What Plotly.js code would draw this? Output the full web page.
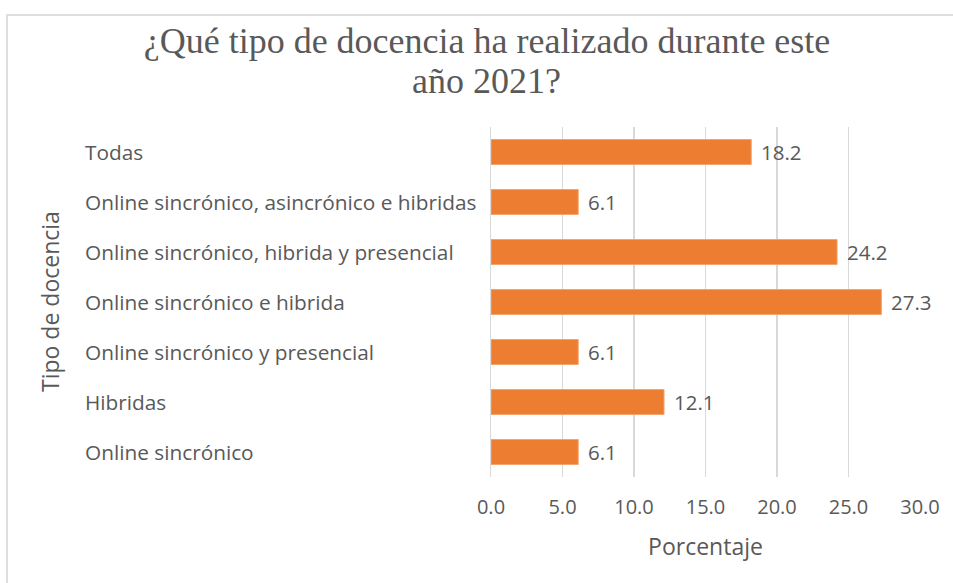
<!DOCTYPE html>
<html>
<head>
<meta charset="utf-8">
<script src="https://cdn.plot.ly/plotly-3.0.1.min.js"></script>
<style>
html,body{margin:0;padding:0;background:#fff;}
#frame{position:absolute;left:6px;top:14px;right:0;bottom:0;border-left:2px solid #dedede;border-top:2px solid #dedede;pointer-events:none;z-index:5;}
#chart{position:absolute;left:0;top:0;width:953px;height:583px;}
</style>
</head>
<body>
<div id="chart"></div>
<div id="frame"></div>
<script>
const categories = [
  "Todas",
  "Online sincrónico, asincrónico e hibridas",
  "Online sincrónico, hibrida y presencial",
  "Online sincrónico e hibrida",
  "Online sincrónico y presencial",
  "Hibridas",
  "Online sincrónico"
];
const values = [18.2, 6.1, 24.2, 27.3, 6.1, 12.1, 6.1];
const tickVals = [0, 5, 10, 15, 20, 25, 30];
const tickText = ["0.0", "5.0", "10.0", "15.0", "20.0", "25.0", "30.0"];
const titleLine1 = "¿Qué tipo de docencia ha realizado durante este";
const titleLine2 = "año 2021?";

const gray = "#595959";
const sans = "Open Sans, sans-serif";
const serif = "Liberation Serif, Times New Roman, serif";

const trace = {
  type: "bar",
  orientation: "h",
  x: values,
  y: categories,
  width: 0.5,
  marker: {color: "#ED7D31", line: {color: "#F3A56E", width: 1}},
  hoverinfo: "none"
};

const annotations = [];
categories.forEach((c, i) => {
  annotations.push({
    x: 0, xref: "x", y: c, yref: "y",
    text: c, showarrow: false, xanchor: "left", xshift: -408,
    font: {family: sans, size: 20.8, color: gray}
  });
  annotations.push({
    x: values[i], xref: "x", y: c, yref: "y",
    text: values[i].toFixed(1), showarrow: false, xanchor: "left", xshift: 8,
    font: {family: sans, size: 20.5, color: gray}
  });
});
annotations.push({
  x: (50 - 491) / 429, xref: "paper", xanchor: "center", y: 0.5, yref: "paper", yanchor: "middle",
  text: "Tipo de docencia", textangle: -90, showarrow: false,
  font: {family: sans, size: 23, color: gray}
});
annotations.push({
  x: (486 - 491) / 429, xref: "paper", xanchor: "center",
  y: 1 + (127 - 81) / 350, yref: "paper", yanchor: "middle",
  text: titleLine2, showarrow: false,
  font: {family: serif, size: 36, color: gray}
});

const layout = {
  width: 953, height: 583,
  margin: {l: 491, r: 33, t: 127, b: 106},
  paper_bgcolor: "#fff", plot_bgcolor: "#fff",
  title: {
    text: titleLine1,
    font: {family: serif, size: 36, color: gray},
    x: 487/953, xref: "container", xanchor: "center",
    y: 1 - 40/583, yref: "container", yanchor: "middle"
  },
  xaxis: {
    range: [0, 30], tickvals: tickVals, ticktext: tickText,
    showgrid: true, gridcolor: "#d9d9d9", gridwidth: 1.5,
    zeroline: false, showline: false,
    ticks: "outside", ticklen: 12, tickcolor: "rgba(0,0,0,0)",
    tickfont: {family: sans, size: 20, color: gray},
    title: {text: "Porcentaje", font: {family: sans, size: 23, color: gray}, standoff: 19},
    fixedrange: true
  },
  yaxis: {
    type: "category", autorange: "reversed",
    showticklabels: false, showgrid: false, zeroline: false,
    showline: true, linecolor: "#d9d9d9", linewidth: 1.5,
    fixedrange: true
  },
  annotations: annotations,
  showlegend: false
};

Plotly.newPlot("chart", [trace], layout, {displayModeBar: false, staticPlot: true});
</script>
</body>
</html>
